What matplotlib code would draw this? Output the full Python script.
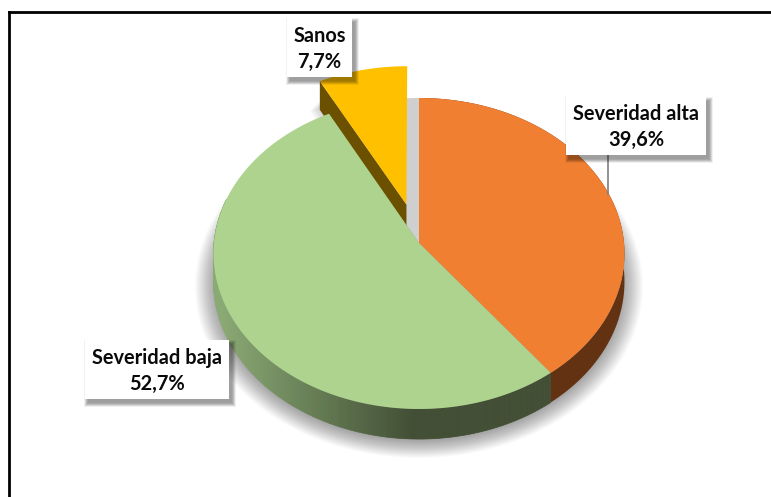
import numpy as np
import matplotlib
matplotlib.use("Agg")
import matplotlib.pyplot as plt
from matplotlib.patches import Polygon, Rectangle

plt.rcParams['font.family'] = ['Lato', 'DejaVu Sans']

# Data
categories = ["Severidad alta", "Severidad baja", "Sanos"]
values = [39.6, 52.7, 7.7]
top_colors = ["#F07F31", "#ADD38F", "#FFC000"]
explode = [0, 0, 0.26]

# pie geometry in image pixels
cx, cy = 419, 243
rx, ry = 205, 154.8
persp = 0.0675
depth = 28


def project(theta, r=1.0, shift=0.0, mid=0.0):
    # clockwise angle from the top of the circle -> screen pixels
    u = r * np.sin(theta) + shift * np.sin(mid)
    v = -r * np.cos(theta) - shift * np.cos(mid)
    s = 1 / (1 - persp * v)
    return cx + rx * u * s, cy + ry * v * s, s


def sector(start, end, shift=0.0, r=1.0):
    mid = (start + end) / 2
    th = np.linspace(start, end, 120)
    x, y, s = project(th, r, shift, mid)
    ax0, ay0, s0 = project(0.0, 0.0, shift, mid)
    return np.r_[ax0, x], np.r_[ay0, y], np.r_[s0, s]


def mix(c1, c2, t):
    c1 = np.array(matplotlib.colors.to_rgb(c1))
    c2 = np.array(matplotlib.colors.to_rgb(c2))
    return c1 + (c2 - c1) * t


fig = plt.figure(figsize=(7.71, 4.97), dpi=100)
ax = fig.add_axes([0, 0, 1, 1])
ax.set_xlim(0, 771)
ax.set_ylim(497, 0)
ax.axis("off")

# picture frame
ax.plot([9, 9], [497, 12], color="black", lw=2.0, solid_capstyle="projecting", zorder=1)
ax.plot([9, 771], [12, 12], color="black", lw=2.0, solid_capstyle="projecting", zorder=1)

edges = np.cumsum([0] + values) / 100 * 2 * np.pi

# soft shadow under the pie
th = np.linspace(0, 2 * np.pi, 240)
sx, sy, ss = project(th)
sy = sy + depth * ss
for f in np.linspace(1.09, 0.97, 24):
    px = cx + (sx - cx) * f
    py = 262 + (sy - 262) * f + 3
    ax.add_patch(Polygon(np.c_[px, py], fc="black", ec="none", alpha=0.02, zorder=2))

# grey inside of the gap left by the pulled out slice
gx, gy, gs = sector(edges[2], edges[3])
ax.add_patch(Polygon(np.c_[gx, gy], fc="#CFCFCF", ec="none", zorder=3))

# pulled out slice: shadow, cut face, top
yx, yy, ys = sector(edges[2], edges[3], explode[2], r=0.985)
for g in np.linspace(10, 0, 8):
    ax.add_patch(Polygon(np.c_[yx - g, yy + depth * 0.7 + g], fc="black", ec="none", alpha=0.035, zorder=2))
face = np.array([[yx[0], yy[0]], [yx[1], yy[1]],
                 [yx[1], yy[1] + depth * ys[1] * 1.1], [yx[0], yy[0] + depth * ys[0] * 1.1]])
ax.add_patch(Polygon(face, fc="#6B5000", ec="none", zorder=4))
ax.add_patch(Polygon(np.c_[yx, yy], fc=top_colors[2], ec="none", zorder=5))

# side walls
th = np.linspace(edges[0], edges[1], 120)
wx, wy, ws = project(th)
ax.add_patch(Polygon(np.r_[np.c_[wx, wy], np.c_[wx, wy + depth * ws][::-1]], fc="#623212", ec="none", zorder=6))

th = np.linspace(edges[1], edges[2], 260)
wx, wy, ws = project(th)
for i in range(len(th) - 1):
    if wy[i] < 200:
        continue
    t = np.clip((wx[i] - 222) / 190, 0, 1)
    col = mix("#8AAA74", "#424F35", t)
    quad = [[wx[i], wy[i]], [wx[i + 1], wy[i + 1]],
            [wx[i + 1], wy[i + 1] + depth * ws[i + 1]], [wx[i], wy[i] + depth * ws[i]]]
    ax.add_patch(Polygon(quad, fc=col, ec=col, lw=0.5, zorder=6))

# top faces
for i in [0, 1]:
    tx, ty, ts = sector(edges[i], edges[i + 1])
    ax.add_patch(Polygon(np.c_[tx, ty], fc=top_colors[i], ec="none", zorder=7))

# leader line of the orange slice
ax.plot([608, 608], [155, 194], color="#7F7F7F", lw=1.2, zorder=8)

# labels
label_boxes = [(566, 97, 140, 58), (85, 340, 144, 59), (287, 18, 65, 59)]
for name, val, (bx, by, bw, bh) in zip(categories, values, label_boxes):
    for g in np.linspace(4, 0, 8):
        ax.add_patch(Rectangle((bx + 3 - g, by + 4 - g), bw + 2 * g, bh + 2 * g,
                               fc="black", ec="none", alpha=0.055, zorder=9))
    ax.add_patch(Rectangle((bx, by), bw, bh, fc="white", ec="none", zorder=10))
    ax.text(bx + bw / 2, by + bh * 0.30, name, ha="center", va="center",
            fontsize=14.4, fontweight="bold", color="#0A0A0A", zorder=11)
    ax.text(bx + bw / 2, by + bh * 0.74, f"{val:.1f}%".replace(".", ","), ha="center", va="center",
            fontsize=14.4, fontweight="bold", color="#0A0A0A", zorder=11)

fig.savefig("out.png", dpi=100)
